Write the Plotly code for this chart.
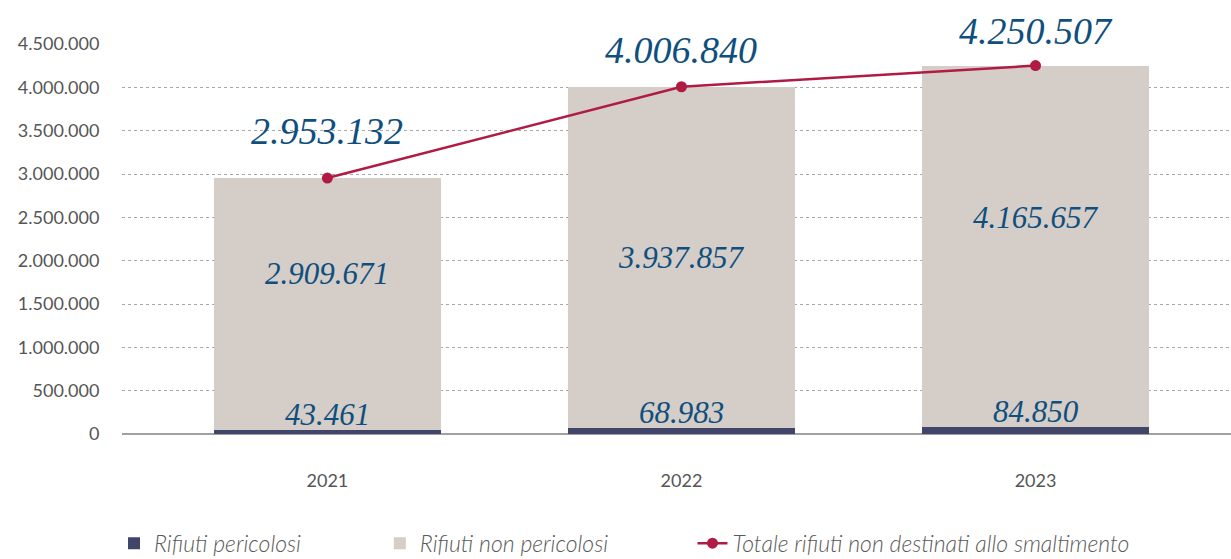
import plotly.graph_objects as go

# Data
years = ["2021", "2022", "2023"]
pericolosi = [43461, 68983, 84850]
non_pericolosi = [2909671, 3937857, 4165657]
totale = [2953132, 4006840, 4250507]

label_pericolosi = ["43.461", "68.983", "84.850"]
label_non_pericolosi = ["2.909.671", "3.937.857", "4.165.657"]
label_totale = ["2.953.132", "4.006.840", "4.250.507"]

NAVY = "#42456a"
GREY = "#d5cdc8"
RED = "#b01b44"
BLUE = "#0f4f7e"
TXT = "#555555"
SERIF = "Liberation Serif"

fig = go.Figure()

fig.add_trace(go.Bar(
    x=years, y=pericolosi, name="<i>Rifiuti pericolosi</i>",
    marker=dict(color=NAVY, line=dict(width=0)), width=0.641,
    legend="legend",
))
fig.add_trace(go.Bar(
    x=years, y=non_pericolosi, name="<i>Rifiuti non pericolosi</i>",
    marker=dict(color=GREY, line=dict(width=0)), width=0.641,
    legend="legend2",
))
fig.add_trace(go.Scatter(
    x=years, y=totale, name="<i>Totale rifiuti non destinati allo smaltimento</i>",
    mode="lines+markers", line=dict(color=RED, width=2.5),
    marker=dict(color=RED, size=11), legend="legend3", cliponaxis=False,
))

# labels (x given as category index so the annotation lands on the bar)
mid_shift = [31, 0, 29]
top_shift = [24, 14, 12]
for i in range(len(years)):
    fig.add_annotation(
        x=i, y=pericolosi[i], text="<i>" + label_pericolosi[i] + "</i>", showarrow=False,
        yanchor="bottom", yshift=-4,
        font=dict(family=SERIF, size=31, color=BLUE),
    )
    fig.add_annotation(
        x=i, y=pericolosi[i] + non_pericolosi[i] / 2,
        text="<i>" + label_non_pericolosi[i] + "</i>",
        showarrow=False, yanchor="middle", yshift=mid_shift[i],
        font=dict(family=SERIF, size=31, color=BLUE),
    )
    fig.add_annotation(
        x=i, y=totale[i], text="<i>" + label_totale[i] + "</i>", showarrow=False,
        yanchor="bottom", yshift=top_shift[i],
        font=dict(family=SERIF, size=38, color=BLUE),
    )

legend_font = dict(family="Lato", size=23, color="#5a5a5a", weight=300)
fig.update_layout(
    width=1231, height=559,
    margin=dict(l=122, r=0, t=44, b=125, autoexpand=False),
    barmode="stack",
    separators=",.",
    showlegend=True,
    plot_bgcolor="white", paper_bgcolor="white",
    font=dict(family="Lato", color=TXT),
    xaxis=dict(
        type="category", range=[-0.58, 2.552], showgrid=False, showline=False,
        zeroline=False, tickfont=dict(size=18, color=TXT), ticks="outside",
        ticklen=30, tickcolor="rgba(0,0,0,0)", automargin=False,
    ),
    yaxis=dict(
        range=[0, 4500000], tickvals=[0, 500000, 1000000, 1500000, 2000000,
                                     2500000, 3000000, 3500000, 4000000, 4500000],
        tickformat=",d", showgrid=True, gridcolor="#a8a8a8", gridwidth=1,
        griddash="3px,3px", zeroline=True, zerolinecolor="#a0a0a0",
        zerolinewidth=1.5, tickfont=dict(size=18, color=TXT),
        ticks="outside", ticklen=18, tickcolor="rgba(0,0,0,0)", automargin=False,
    ),
    legend=dict(orientation="h", x=-0.0072, y=-0.28, xanchor="left", yanchor="middle",
                font=legend_font, bgcolor="rgba(0,0,0,0)"),
    legend2=dict(orientation="h", x=0.2325, y=-0.28, xanchor="left", yanchor="middle",
                 font=legend_font, bgcolor="rgba(0,0,0,0)"),
    legend3=dict(orientation="h", x=0.5144, y=-0.28, xanchor="left", yanchor="middle",
                 font=legend_font, bgcolor="rgba(0,0,0,0)"),
)

fig.write_html(
    "out.html",
    config={"displayModeBar": False},
    post_script="document.body.style.margin='0';document.body.style.overflow='hidden';",
)
